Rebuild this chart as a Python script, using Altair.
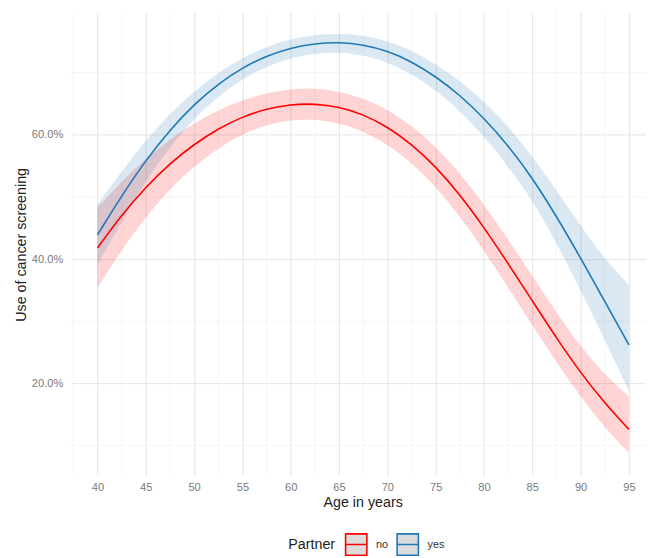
import altair as alt
import pandas as pd

ages = [40, 42.5, 45, 47.5, 50, 52.5, 55, 57.5, 60, 62.5, 65, 67.5, 70,
        72.5, 75, 77.5, 80, 82.5, 85, 87.5, 90, 92.5, 95]

no_fit = [41.8, 47.1, 51.6, 55.4, 58.5, 61.0, 62.9, 64.2, 64.9, 65.0, 64.5, 63.3, 61.3,
          58.5, 54.9, 50.4, 45.1, 39.3, 33.3, 27.3, 21.7, 16.8, 12.6]
no_lo = [35.3, 41.5, 46.8, 51.3, 54.9, 57.9, 60.1, 61.6, 62.4, 62.5, 61.9, 60.6, 58.5,
         55.5, 51.7, 46.9, 41.4, 35.4, 29.4, 23.4, 17.8, 12.9, 8.8]
no_hi = [48.3, 52.5, 56.2, 59.3, 61.9, 64.0, 65.6, 66.7, 67.4, 67.5, 67.0, 65.9, 64.1,
         61.5, 58.1, 53.9, 48.8, 43.2, 37.3, 31.4, 25.9, 21.4, 17.9]

yes_fit = [43.9, 50.2, 55.9, 60.8, 64.9, 68.2, 70.8, 72.7, 74.0, 74.7, 74.9, 74.5, 73.5,
           71.8, 69.4, 66.4, 62.7, 58.3, 53.1, 46.9, 40.2, 33.2, 26.2]
yes_lo = [39.0, 46.1, 52.6, 58.1, 62.6, 66.2, 69.0, 71.0, 72.4, 73.1, 73.3, 72.8, 71.7,
          69.8, 67.2, 63.9, 59.8, 54.9, 49.6, 42.6, 35.0, 27.0, 18.8]
yes_hi = [48.8, 54.1, 59.1, 63.4, 67.0, 70.0, 72.4, 74.2, 75.4, 76.1, 76.3, 76.0, 75.1,
          73.6, 71.4, 68.7, 65.4, 61.4, 56.5, 51.1, 45.4, 40.0, 35.8]

groups = ["no", "yes"]
colors = ["#ff0000", "#1f78b4"]

x_major = [40, 45, 50, 55, 60, 65, 70, 75, 80, 85, 90, 95]
x_minor = [37.5, 42.5, 47.5, 52.5, 57.5, 62.5, 67.5, 72.5, 77.5, 82.5, 87.5, 92.5]
y_major = [20, 40, 60]
y_minor = [10, 30, 50, 70]

rows = []
for g, fit, lo, hi in [("no", no_fit, no_lo, no_hi), ("yes", yes_fit, yes_lo, yes_hi)]:
    for a, f, l, h in zip(ages, fit, lo, hi):
        rows.append({"age": a, "partner": g, "fit": f, "lo": l, "hi": h})
df = pd.DataFrame(rows)

FONT = "Liberation Sans"
GRID_MAJOR = "#e9e9e9"
GRID_MINOR = "#f4f4f4"

xscale = alt.Scale(domain=[37.2, 96.77], nice=False, zero=False)
yscale = alt.Scale(domain=[5.23, 79.67], nice=False, zero=False)

xaxis = alt.Axis(
    title="Age in years", values=x_major, format="d",
    grid=True, gridColor=GRID_MAJOR, gridWidth=1.3,
    ticks=False, domain=False, labelPadding=6, labelOverlap=False, labelFlush=False,
    labelFontSize=11.2, labelColor="#7a7a7a", labelFont=FONT,
    titleFontSize=14.4, titleColor="#222222", titleFont=FONT, titleFontWeight="normal",
    titleX=295, titleY=28, titleBaseline="middle",
)
yaxis = alt.Axis(
    title="Use of cancer screening", values=y_major,
    labelExpr="format(datum.value, '.1f') + '%'",
    grid=True, gridColor=GRID_MAJOR, gridWidth=1.3,
    ticks=False, domain=False, labelPadding=7.7, labelOverlap=False,
    labelFontSize=11.2, labelColor="#7a7a7a", labelFont=FONT,
    titleFontSize=14.4, titleColor="#222222", titleFont=FONT, titleFontWeight="normal",
    titleX=-49, titleY=234, titleBaseline="middle", titleAngle=270,
)

vminor = alt.Chart(pd.DataFrame({"x": x_minor})).mark_rule(
    color=GRID_MINOR, strokeWidth=0.9
).encode(x=alt.X("x:Q", scale=xscale, axis=xaxis))

hminor = alt.Chart(pd.DataFrame({"y": y_minor})).mark_rule(
    color=GRID_MINOR, strokeWidth=0.9
).encode(y=alt.Y("y:Q", scale=yscale, axis=yaxis))

base = alt.Chart(df)

# ribbons: data-driven domain (sorted no, yes) so its hidden legend is not merged
band = base.mark_area(opacity=0.17, interpolate="basis").encode(
    x=alt.X("age:Q", scale=xscale),
    y=alt.Y("lo:Q", scale=yscale),
    y2="hi:Q",
    fill=alt.Fill("partner:N", scale=alt.Scale(range=colors), legend=None),
)

legend = alt.Legend(
    title="Partner", orient="none", direction="horizontal",
    legendX=220, legendY=525,
    titleOrient="left", titlePadding=8.5, titleFontSize=14.4, titleFont=FONT,
    titleColor="#222222", titleFontWeight="normal",
    labelFontSize=11, labelFont=FONT, labelColor="#333333", labelOffset=8,
    symbolType="M-1,-1H1V1H-1Z M-1,0H1", symbolSize=462, symbolStrokeWidth=1.6,
    symbolFillColor="#dcdcdc", columnPadding=5,
)

line = base.mark_line(strokeWidth=1.6, interpolate="basis").encode(
    x=alt.X("age:Q", scale=xscale),
    y=alt.Y("fit:Q", scale=yscale),
    stroke=alt.Stroke("partner:N", scale=alt.Scale(domain=groups, range=colors), legend=legend),
)

chart = alt.layer(vminor, hminor, band, line).properties(
    width=581, height=467,
    autosize=alt.AutoSizeParams(type="none"),
    padding={"left": 63, "top": 2, "right": 0, "bottom": 80},
    background="white",
).configure_view(stroke=None)

chart.save("out.html", embed_options={"renderer": "svg", "actions": False})
